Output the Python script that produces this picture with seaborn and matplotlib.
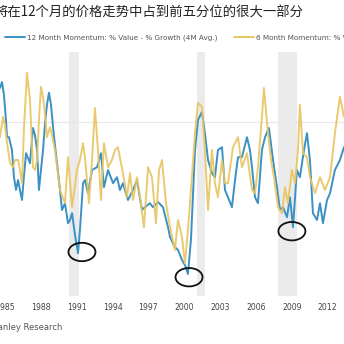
import numpy as np
import pandas as pd
import matplotlib
matplotlib.use("Agg")
import matplotlib.pyplot as plt
from matplotlib.patches import Ellipse
from matplotlib.lines import Line2D
import seaborn as sns

# ---------------- data ----------------
title = "将在12个月的价格走势中占到前五分位的很大一部分"
label_12m = "12 Month Momentum: % Value - % Growth (4M Avg.)"
label_6m = "6 Month Momentum: % Value - % Growth (4M Avg.)"
source = "Morgan Stanley Research"

blue_years = [1984.58, 1984.75, 1984.91, 1985.08, 1985.17, 1985.33, 1985.58, 1985.75, 1985.92, 1986.09,
              1986.25, 1986.42, 1986.59, 1986.76, 1986.92, 1987.09, 1987.34, 1987.51, 1987.68, 1987.84,
              1988.01, 1988.18, 1988.35, 1988.51, 1988.68, 1988.85, 1989.02, 1989.18, 1989.35, 1989.60,
              1989.77, 1990.02, 1990.27, 1990.44, 1990.61, 1990.86, 1991.11, 1991.27, 1991.53, 1991.69,
              1991.94, 1992.28, 1992.70, 1993.03, 1993.28, 1993.62, 1994.04, 1994.37, 1994.62, 1994.87,
              1995.29, 1995.71, 1996.04, 1996.46, 1996.71, 1997.13, 1997.38, 1997.80, 1998.22, 1998.64,
              1998.81, 1999.22, 1999.48, 1999.81, 2000.06, 2000.31, 2000.56, 2000.90, 2001.15, 2001.48,
              2001.73, 2001.99, 2002.32, 2002.57, 2002.82, 2003.16, 2003.41, 2003.66, 2003.99, 2004.25,
              2004.50, 2004.83, 2005.25, 2005.50, 2005.67, 2005.92, 2006.17, 2006.50, 2006.76, 2007.09,
              2007.43, 2007.76, 2008.01, 2008.26, 2008.60, 2008.85, 2009.10, 2009.43, 2009.68, 2010.02,
              2010.27, 2010.52, 2010.77, 2011.11, 2011.36, 2011.61, 2011.95, 2012.20, 2012.61, 2013.03,
              2013.37]
blue_values = [8.5, 10.0, 6.8, 0.5, -3.8, -3.8, -7.0, -13.8, -17.0, -14.5,
               -17.0, -19.5, -13.3, -7.8, -9.0, -10.3, -1.5, -3.3, -7.0, -17.0,
               -12.0, -7.0, -0.3, 4.3, 7.3, 4.3, -1.3, -5.8, -10.3, -17.0,
               -22.0, -20.3, -25.3, -24.5, -22.8, -28.3, -32.8, -27.0, -15.3, -14.5,
               -17.8, -12.0, -11.3, -7.8, -16.3, -12.0, -15.3, -13.8, -17.0, -15.3,
               -19.5, -17.0, -14.5, -22.0, -21.3, -20.3, -21.3, -20.0, -21.3, -26.3,
               -28.8, -31.3, -32.0, -34.5, -35.8, -38.0, -29.5, -7.0, 0.5, 2.5,
               -2.8, -9.5, -12.8, -13.8, -7.0, -6.3, -17.0, -18.8, -21.3, -14.5,
               -8.8, -8.8, -3.8, -7.0, -11.3, -18.8, -20.3, -7.0, -3.8, -1.5,
               -9.5, -16.3, -22.0, -21.3, -23.8, -18.8, -26.3, -12.0, -13.8, -7.0,
               -2.8, -9.5, -22.8, -24.5, -20.3, -25.3, -19.5, -17.8, -12.0, -9.5,
               -6.3]

yellow_years = [1984.58, 1984.83, 1985.00, 1985.17, 1985.42, 1985.67, 1985.84, 1986.09, 1986.25, 1986.42,
                1986.59, 1986.84, 1987.09, 1987.34, 1987.51, 1987.68, 1987.84, 1988.01, 1988.18, 1988.35,
                1988.51, 1988.76, 1988.93, 1989.18, 1989.60, 1990.02, 1990.27, 1990.61, 1990.86, 1991.02,
                1991.27, 1991.53, 1991.69, 1991.86, 1992.03, 1992.28, 1992.53, 1992.78, 1993.03, 1993.28,
                1993.62, 1993.95, 1994.20, 1994.45, 1994.87, 1995.21, 1995.46, 1995.71, 1996.04, 1996.30,
                1996.63, 1996.97, 1997.30, 1997.63, 1997.89, 1998.14, 1998.47, 1998.81, 1999.22, 1999.48,
                1999.81, 2000.06, 2000.31, 2000.48, 2000.90, 2001.15, 2001.48, 2001.73, 2001.99, 2002.32,
                2002.57, 2002.82, 2003.16, 2003.41, 2003.66, 2004.08, 2004.50, 2004.83, 2005.25, 2005.67,
                2005.92, 2006.17, 2006.50, 2006.67, 2007.01, 2007.26, 2007.51, 2007.85, 2008.18, 2008.43,
                2008.68, 2009.01, 2009.27, 2009.52, 2009.68, 2009.94, 2010.27, 2010.52, 2010.94, 2011.36,
                2011.78, 2012.20, 2012.61, 2013.03, 2013.37]
yellow_values = [-3.8, 1.3, -0.8, -5.3, -10.3, -11.3, -9.5, -9.5, -12.0, -15.3,
                 -1.3, 12.3, 5.5, -11.3, -12.0, -9.5, 0.5, 8.8, 6.3, 1.8,
                 -3.8, -1.3, -3.3, -7.0, -17.0, -20.3, -8.8, -21.3, -15.8, -12.0,
                 -9.5, -5.3, -8.8, -14.5, -20.3, -9.5, 3.5, -7.0, -19.5, -5.3,
                 -11.3, -9.5, -7.0, -6.3, -12.8, -18.8, -12.8, -19.5, -13.8, -18.8,
                 -26.3, -11.3, -13.8, -25.3, -12.0, -9.5, -20.3, -26.3, -32.0, -24.5,
                 -28.8, -35.3, -27.0, -20.3, -2.8, 4.8, 3.8, -7.0, -22.0, -7.0,
                 -15.3, -18.8, -9.5, -15.3, -15.3, -6.3, -3.8, -11.3, -7.8, -17.0,
                 -17.8, -11.3, 1.3, 8.5, -2.8, -9.5, -13.8, -21.3, -22.8, -16.3,
                 -20.3, -12.0, -15.3, -7.0, 4.3, -7.8, -8.8, -13.8, -17.8, -13.8,
                 -17.0, -13.8, -2.8, 6.3, 1.3]

recession_starts = [1990.33, 2001.07, 2007.85]
recession_ends = [1991.17, 2001.74, 2009.43]

circle_years = [1991.44, 2000.40, 2009.01]
circle_values = [-32.5, -38.8, -27.3]

tick_years = [1985, 1988, 1991, 1994, 1997, 2000, 2003, 2006, 2009, 2012]

# ---------------- figure ----------------
sns.set_theme(style="white")
plt.rcParams['font.family'] = ['DejaVu Sans', 'Noto Sans CJK SC']

BLUE = "#3b91c4"
YELLOW = "#e8c560"

fig = plt.figure(figsize=(3.44, 3.44), dpi=100)
ax = fig.add_axes([0.0, 1 - 296 / 344, 1.0, (296 - 52) / 344])

df = pd.concat([
    pd.DataFrame({"year": blue_years, "value": blue_values, "series": label_12m}),
    pd.DataFrame({"year": yellow_years, "value": yellow_values, "series": label_6m}),
])

for s, e in zip(recession_starts, recession_ends):
    ax.axvspan(s, e, color="#ebebeb", zorder=0, lw=0)
ax.axhline(0, color="#e8e8e8", lw=0.9, zorder=0.5)

sns.lineplot(data=df, x="year", y="value", hue="series",
             palette={label_12m: BLUE, label_6m: YELLOW},
             hue_order=[label_12m, label_6m], lw=1.4, ax=ax, legend=False,
             sort=False, estimator=None)
ax.lines[-1].set_alpha(0.9)

for cx, cy in zip(circle_years, circle_values):
    ax.add_patch(Ellipse((cx, cy), 2.26, 4.6, fill=False, ec="#111111", lw=1.3, zorder=5))

ax.set_xlim(1984.58, 2013.37)
ax.set_ylim(-43.5, 17.5)
ax.set_xticks(tick_years)
ax.set_xticklabels([str(t) for t in tick_years], fontsize=5.6, color="#444444")
ax.set_yticks([])
ax.tick_params(axis="x", length=0, pad=5)
ax.set_xlabel("")
ax.set_ylabel("")
for sp in ax.spines.values():
    sp.set_visible(False)

# legend
handles = [Line2D([], [], color=BLUE, lw=1.4), Line2D([], [], color=YELLOW, lw=1.4)]
leg = fig.legend(handles, [label_12m, label_6m], loc="center left",
                 bbox_to_anchor=(5 / 344, 1 - 38 / 344), ncol=2, frameon=False,
                 fontsize=5.2, handlelength=2.8, handletextpad=0.28, columnspacing=2.2,
                 borderpad=0, borderaxespad=0)
for t in leg.get_texts():
    t.set_color("#555555")

fig.text(-5 / 344, 1 - 13 / 344, title, fontsize=9.6, color="#222222",
         ha="left", va="center", family=["Noto Sans CJK SC", "DejaVu Sans"])
fig.text(62 / 344, 1 - 328 / 344, source, fontsize=6.0, color="#555555",
         ha="right", va="center")

fig.savefig("out.png", dpi=100)
